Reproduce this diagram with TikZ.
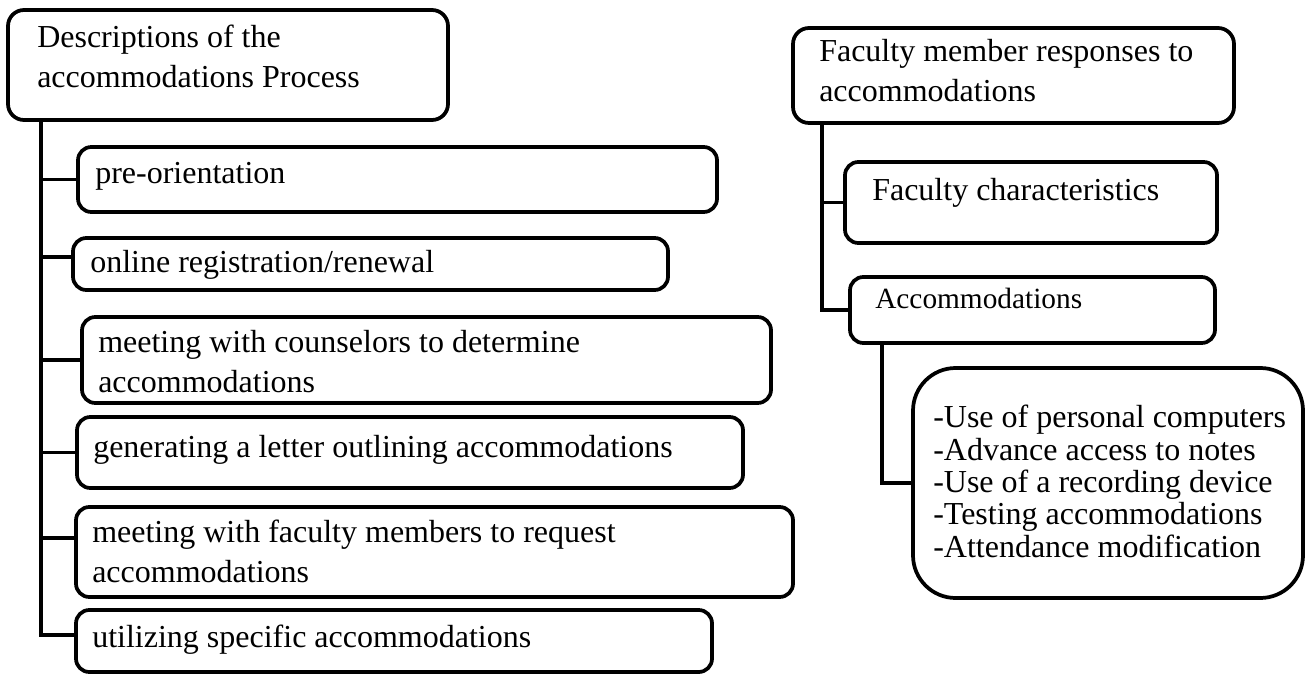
\documentclass[tikz,border=0pt]{standalone}
\usepackage{fontspec}
\setmainfont{Liberation Serif}
\usetikzlibrary{fit}
\begin{document}
\begin{tikzpicture}[x=0.75pt,y=-0.75pt,
  box/.style={draw=black, line width=2.8pt, rounded corners=10pt, inner sep=0pt},
  bigbox/.style={box, rounded corners=12pt},
  roundbox/.style={box, rounded corners=32pt},
  conn/.style={draw=black, line width=2.8pt},
  txt/.style={inner sep=0pt, anchor=base west, align=left, font=\fontsize{24pt}{30pt}\selectfont},
  smalltxt/.style={txt, font=\fontsize{22pt}{28pt}\selectfont},
  listtxt/.style={txt, font=\fontsize{24pt}{24.2pt}\selectfont}]
\useasboundingbox (0,0) rectangle (1306,674);
% left column boxes (multi-line texts are placed by the baseline of their last line)
\node[bigbox, fit={(8,10) (448,120)}] (b0) {};
\node[txt] (b0t) at (37,88) {Descriptions of the\\accommodations Process};
\node[box, fit={(78,147) (717,212)}] (b1) {};
\node[txt] (b1t) at (95,183) {pre-orientation};
\node[box, fit={(73,238) (668,290)}] (b2) {};
\node[txt] (b2t) at (90,272) {online registration/renewal};
\node[box, fit={(82,317) (771,403)}] (b3) {};
\node[txt] (b3t) at (98,392) {meeting with counselors to determine\\accommodations};
\node[box, fit={(77,417) (743,488)}] (b4) {};
\node[txt] (b4t) at (93,457) {generating a letter outlining accommodations};
\node[box, fit={(76,507) (793,597)}] (b5) {};
\node[txt] (b5t) at (92,582) {meeting with faculty members to request\\accommodations};
\node[box, fit={(76,610) (712,672)}] (b6) {};
\node[txt] (b6t) at (92,647) {utilizing specific accommodations};
% left connectors
\coordinate (L) at (41,120);
\draw[conn] (L) |- ([yshift=4.5pt]b6.west);
\draw[conn] (L) |- (b1.west);
\draw[conn] (L) |- ([yshift=5pt]b2.west);
\draw[conn] (L) |- (b3.west);
\draw[conn] (L) |- (b4.west);
\draw[conn] (L) |- ([yshift=10.5pt]b5.west);
% right column boxes
\node[bigbox, fit={(793,28) (1234,123)}] (r0) {};
\node[txt] (r0t) at (819,102) {Faculty member responses to\\accommodations};
\node[box, fit={(845,162) (1217,243)}] (r1) {};
\node[txt] (r1t) at (872,200) {Faculty characteristics};
\node[box, fit={(850,277) (1215,343)}] (r2) {};
\node[smalltxt] (r2t) at (875,308) {Accommodations};
\node[roundbox, fit={(913,368) (1303,598)}] (r3) {};
\node[listtxt] (r3t) at (933,557) {-Use of personal computers\\-Advance access to notes\\-Use of a recording device\\-Testing accommodations\\-Attendance modification};
% right connectors
\coordinate (R) at (822,123);
\draw[conn] (R) |- (r2.west);
\draw[conn] (R) |- (r1.west);
\coordinate (S) at (882,343);
\draw[conn] (S) |- (r3.west);
\end{tikzpicture}
\end{document}
